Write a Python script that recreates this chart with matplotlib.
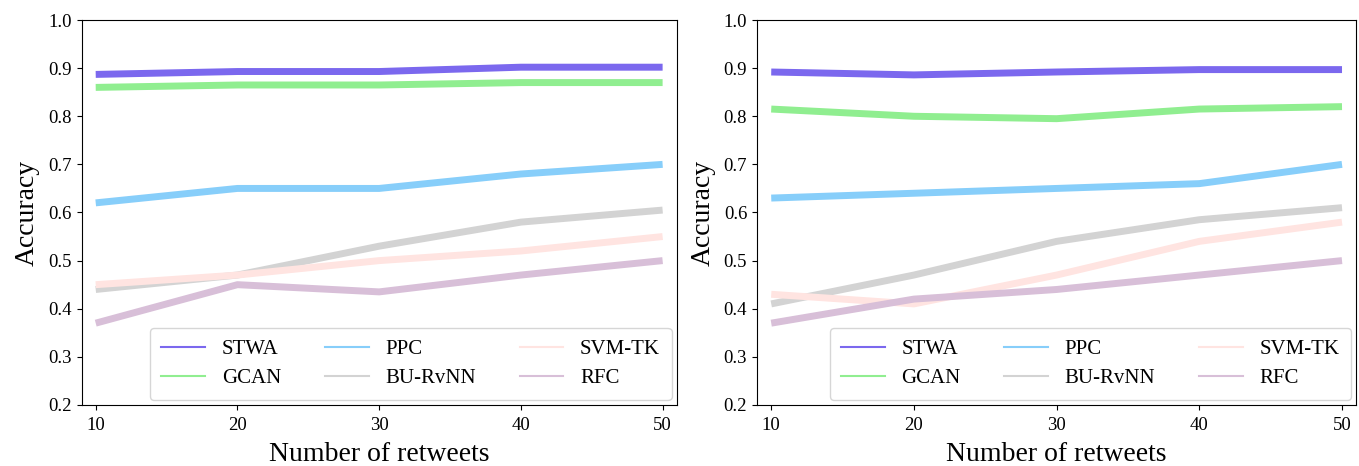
import numpy as np
import matplotlib.pyplot as plt
from matplotlib.lines import Line2D

plt.rcParams['font.family'] = ['Liberation Serif', 'DejaVu Serif']

retweets = [10, 20, 30, 40, 50]
nomes = ['STWA', 'GCAN', 'PPC', 'BU-RvNN', 'SVM-TK', 'RFC']
cores = ['mediumslateblue', 'lightgreen', 'lightskyblue', 'lightgray', 'mistyrose', 'thistle']

# painel esquerdo
stwa_a = [0.887, 0.893, 0.893, 0.902, 0.902]
gcan_a = [0.860, 0.865, 0.865, 0.870, 0.870]
ppc_a = [0.62, 0.65, 0.65, 0.68, 0.70]
burvnn_a = [0.44, 0.47, 0.53, 0.58, 0.605]
svmtk_a = [0.45, 0.47, 0.50, 0.52, 0.55]
rfc_a = [0.37, 0.45, 0.435, 0.47, 0.50]

# painel direito
stwa_b = [0.892, 0.886, 0.892, 0.897, 0.897]
gcan_b = [0.815, 0.80, 0.795, 0.815, 0.82]
ppc_b = [0.63, 0.64, 0.65, 0.66, 0.70]
burvnn_b = [0.41, 0.47, 0.54, 0.585, 0.61]
svmtk_b = [0.43, 0.41, 0.47, 0.54, 0.58]
rfc_b = [0.37, 0.42, 0.44, 0.47, 0.50]

paineis = [
    [stwa_a, gcan_a, ppc_a, burvnn_a, svmtk_a, rfc_a],
    [stwa_b, gcan_b, ppc_b, burvnn_b, svmtk_b, rfc_b],
]

fig = plt.figure(figsize=(13.59, 4.66), dpi=100)
ax1 = fig.add_axes([0.060, 0.131, 0.438, 0.826])
ax2 = fig.add_axes([0.557, 0.131, 0.441, 0.826])

for ax, series in zip([ax1, ax2], paineis):
    for nome, cor, y in zip(nomes, cores, series):
        ax.plot(retweets, y, color=cor, linewidth=5, solid_capstyle='butt')
    ax.set_xlim(9, 51)
    ax.set_ylim(0.2, 1.0)
    ax.set_xticks(retweets)
    ax.set_yticks(np.arange(0.2, 1.01, 0.1))
    ax.set_yticklabels([f'{v:.1f}' for v in np.arange(0.2, 1.01, 0.1)])
    ax.tick_params(labelsize=13.5)
    ax.tick_params(axis='x', pad=5)
    ax.set_xlabel('Number of retweets', fontsize=20, labelpad=6)
    ax.set_ylabel('Accuracy', fontsize=20, labelpad=6)
    handles = [Line2D([0], [0], color=c, linewidth=1.5) for c in cores]
    ax.legend(handles, nomes, loc='lower right', ncol=3, fontsize=15,
              columnspacing=2.1, handlelength=2.1, handletextpad=0.8,
              borderpad=0.55, labelspacing=0.45, borderaxespad=0.25)

fig.savefig('out.png', dpi=100)
